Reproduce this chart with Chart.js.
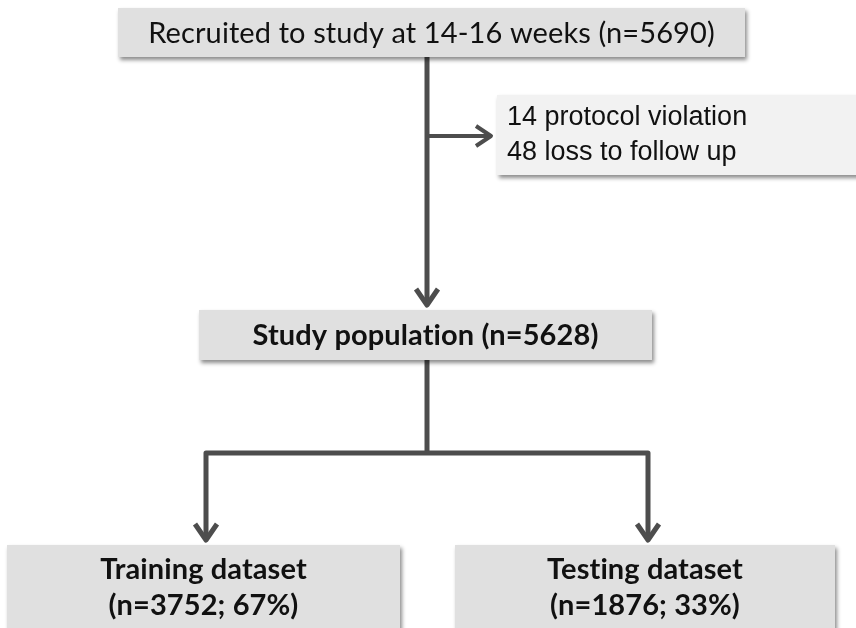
<!DOCTYPE html>
<html><head><meta charset="utf-8">
<script src="https://cdn.jsdelivr.net/npm/chart.js@4.4.0/dist/chart.umd.min.js"></script>
<style>html,body{margin:0;padding:0;background:#fff}#wrap{width:856px;height:628px;position:relative}</style>
</head><body><div id="wrap"><canvas id="c"></canvas></div>
<script>
// ---- data ----
const stageLabels = ['Recruited to study at 14-16 weeks', 'Study population', 'Training dataset', 'Testing dataset'];
const stageCounts = [5690, 5628, 3752, 1876];
const stageShares = [null, null, 67, 33];
const exclusionLabels = ['protocol violation', 'loss to follow up'];
const exclusionCounts = [14, 48];

// ---- layout (diagram coordinates in a 856 x 628 value space) ----
const boxes = [
  {x0:118, x1:745, y0:8,   y1:57,  fill:'#e0e0e0', bold:false, size:29},
  {x0:199, x1:652, y0:310, y1:360, fill:'#e0e0e0', bold:true,  size:29},
  {x0:7,   x1:400, y0:545, y1:640, fill:'#e0e0e0', bold:true,  size:29},
  {x0:455, x1:835, y0:545, y1:640, fill:'#e0e0e0', bold:true,  size:29}
];
const sideBox = {x0:497, x1:870, y0:95, y1:175, fill:'#f2f2f2', size:27};

function boxText(i){
  const n = 'n=' + stageCounts[i];
  if (stageShares[i] == null) return [stageLabels[i] + ' (' + n + ')'];
  return [stageLabels[i], '(' + n + '; ' + stageShares[i] + '%)'];
}

const diagramPlugin = {
  id: 'diagram',
  beforeDatasetsDraw(chart){
    const ctx = chart.ctx, sx = chart.scales.x, sy = chart.scales.y;
    const X = v => sx.getPixelForValue(v), Y = v => sy.getPixelForValue(v);
    ctx.save();
    ctx.strokeStyle = '#4d4d4d'; ctx.lineWidth = 5; ctx.lineCap = 'butt'; ctx.lineJoin='round';
    const line = pts => { ctx.beginPath(); ctx.moveTo(X(pts[0][0]),Y(pts[0][1])); for(let k=1;k<pts.length;k++) ctx.lineTo(X(pts[k][0]),Y(pts[k][1])); ctx.stroke(); };
    const arrowHead = (x,y,dir) => {
      ctx.beginPath();
      if (dir==='down'){ ctx.moveTo(X(x-11),Y(y-16)); ctx.lineTo(X(x),Y(y)); ctx.lineTo(X(x+11),Y(y-16)); }
      else { ctx.moveTo(X(x-15),Y(y-10)); ctx.lineTo(X(x),Y(y)); ctx.lineTo(X(x-15),Y(y+10)); }
      ctx.stroke();
    };
    line([[427,57],[427,304]]); arrowHead(427,305,'down');
    ctx.lineWidth = 4;
    line([[427,136],[490,136]]); arrowHead(491,136,'right');
    ctx.lineWidth = 5;
    line([[427,360],[427,453]]);
    line([[206,538],[206,453],[648,453],[648,538]]);
    arrowHead(206,540,'down'); arrowHead(648,540,'down');
    const drawBox = (b) => {
      ctx.save();
      ctx.shadowColor = 'rgba(0,0,0,0.45)'; ctx.shadowBlur = 4; ctx.shadowOffsetX = 2; ctx.shadowOffsetY = 3;
      ctx.fillStyle = b.fill;
      ctx.fillRect(X(b.x0), Y(b.y0), X(b.x1)-X(b.x0), Y(b.y1)-Y(b.y0));
      ctx.restore();
    };
    boxes.forEach(drawBox); drawBox(sideBox);
    ctx.fillStyle = '#111'; ctx.textAlign='center'; ctx.textBaseline='middle';
    if ('letterSpacing' in ctx) ctx.letterSpacing = '0.1px';
    boxes.forEach((b,i) => {
      ctx.font = (b.bold?'bold ':'') + b.size + 'px Lato, "Open Sans", sans-serif';
      const lines = boxText(i);
      const cx = (X(b.x0)+X(b.x1))/2;
      if (lines.length===1) ctx.fillText(lines[0], cx, (Y(b.y0)+Y(b.y1))/2 + 1);
      else { ctx.fillText(lines[0], cx, Y(570)); ctx.fillText(lines[1], cx, Y(606)); }
    });
    if ('letterSpacing' in ctx) ctx.letterSpacing = '0px';
    ctx.textAlign='left';
    ctx.font = sideBox.size + 'px "Liberation Sans", Arial, sans-serif';
    exclusionLabels.forEach((l,i) => ctx.fillText(exclusionCounts[i] + ' ' + l, X(507), Y(118 + i*35)));
    ctx.restore();
  }
};

new Chart(document.getElementById('c'), {
  type: 'scatter',
  data: { datasets: [{ data: [], pointRadius: 0 }] },
  options: {
    responsive: true, maintainAspectRatio: false, animation: false,
    layout: { padding: 0 },
    plugins: { legend: {display:false}, tooltip: {enabled:false} },
    scales: {
      x: { type:'linear', min:0, max:856, display:false },
      y: { type:'linear', min:0, max:628, reverse:true, display:false }
    }
  },
  plugins: [diagramPlugin]
});
</script></body></html>
